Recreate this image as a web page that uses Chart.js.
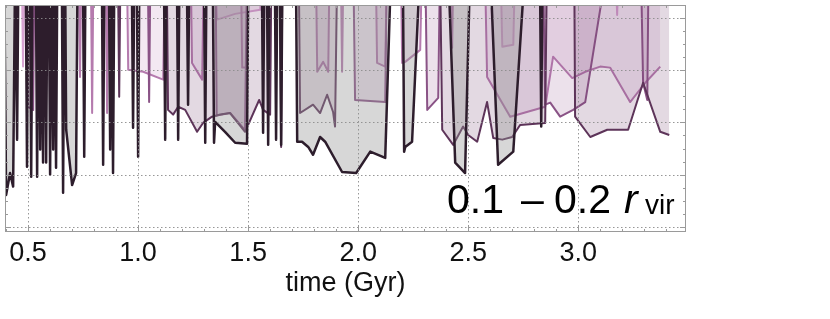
<!DOCTYPE html>
<html>
<head>
<meta charset="utf-8">
<script src="https://cdn.jsdelivr.net/npm/chart.js@4.4.0/dist/chart.umd.min.js"></script>
<style>
  html, body { margin: 0; padding: 0; background: #fff; }
  #wrap { width: 830px; height: 319px; }
</style>
</head>
<body>
<div id="wrap"><canvas id="shell-chart"></canvas></div>
<script>
// values, time in Gyr; 5 means the curve runs off the top of the panel
const darkTime = [0.391,0.400,0.418,0.432,0.441, 0.444,0.450,0.456, 0.489,0.495,0.501, 0.508,0.514,0.520, 0.535,0.541,0.547, 0.550,0.555,0.561, 0.563,0.568,0.574, 0.577,0.582,0.588, 0.594,0.600,0.606, 0.608,0.614,0.620, 0.622,0.627,0.633, 0.653,0.659,0.665, 0.668,0.673,0.700,0.718,0.725, 0.749,0.755,0.761, 0.835,0.841,0.847, 0.867,0.873,0.879, 0.880,0.886,0.892, 0.971,0.977,0.983, 0.994,1.000,1.006,
    1.117,1.123,1.129, 1.176,1.182,1.188, 1.221,1.227,1.233, 1.299,1.305,1.311, 1.339,1.345,1.350,1.395,1.441,1.495,1.501, 1.562,1.568,1.574, 1.585,1.591,1.597, 1.621,1.627,1.633, 1.644,1.650,1.656,
    1.717,1.723,1.745,1.773,1.795,1.827,1.850,1.927,1.991,2.055,2.123,2.150, 2.203,2.209,2.214,2.245,2.282, 2.409,2.441,2.486,2.509, 2.600,2.636,2.705,2.759, 2.826,2.832,2.838];
const darkVal = [5,0.61,1.03,0.77,5, 5,1.67,5, 5,1.15,5, 5,0.96,5, 5,0.96,5, 5,1.48,5, 5,1.23,5, 5,1.23,5, 5,1.00,5, 5,1.48,5, 5,1.13,5, 5,0.65,5, 5,1.86,0.80,1.03,5, 5,1.34,5, 5,1.19,5, 5,1.48,5, 5,1.03,5, 5,1.90,5, 5,1.34,5,
    5,1.67,5, 5,1.67,5, 5,2.34,5, 5,1.61,5, 5,1.61,2.01,1.82,1.61,1.59,5, 5,1.80,5, 5,1.57,5, 5,1.67,5, 5,1.57,5,
    5,1.63,1.63,1.53,1.38,1.72,1.63,1.05,1.03,1.44,1.32,5, 5,1.44,1.53,1.63,5, 5,1.23,1.03,5, 5,1.19,1.44,5, 5,1.92,5];

const plumTime = [0.908,0.914,0.920, 1.130,1.136,1.159,1.182,1.214,1.268,1.295,1.336,1.373,1.418,1.486,1.550,1.568,1.600,1.606, 1.644,1.650,1.656, 1.730,1.736,1.795,1.827,1.859,1.886,1.895,1.905, 2.372,2.382,2.432,2.477,2.500,2.541,2.586,2.614,2.655,2.700,2.736,2.850,2.858, 2.982,2.986,3.055,3.132,3.227,3.295,3.373,3.414];
const plumVal = [5,2.49,5, 5,2.24,2.15,2.30,2.24,1.82,1.99,2.11,2.15,2.18,1.82,2.43,2.24,2.15,5, 5,1.53,5, 5,2.18,2.34,2.18,2.53,2.20,1.92,5, 5,1.86,1.57,1.92,1.76,1.63,2.39,1.70,1.67,1.72,1.95,1.99,5, 5,2.11,1.72,1.86,1.86,2.76,1.82,1.76];

const purpleTime = [0.494,0.500,0.523,0.529, 1.044,1.050,1.056, 1.352,1.357,1.418,1.486,1.495, 1.978,1.986,2.123,2.131, 2.305,2.314,2.364,2.372, 2.840,2.850,2.873,2.918,2.977,3.032,3.132, 3.285,3.295,3.314,3.320];
const purpleVal = [5,2.30,2.24,5, 5,2.39,5, 5,2.13,2.18,1.85,5, 5,2.43,2.39,5, 5,2.24,2.47,5, 5,2.34,2.38,2.11,2.24,2.39,5, 5,2.76,2.43,5];

const mauveTime = [0.730,0.736,0.742, 0.785,0.791,0.797, 0.853,0.859,0.865, 0.949,0.955,1.023,1.114,1.122, 1.239,1.245,1.291,1.299, 1.467,1.473,1.495,1.501, 1.808,1.814,1.841,1.864,1.870, 1.921,1.927,1.933, 2.080,2.086,2.123,2.131, 2.194,2.200,2.214,2.282,2.290, 2.421,2.427,2.433, 2.576,2.586,2.691,2.850,2.886,2.973,3.032,3.100,3.145,3.236,3.305,3.373];
const mauveVal = [5,2.87,5, 5,2.18,5, 5,2.18,5, 5,3.01,2.97,2.82,5, 5,3.14,2.82,5, 5,3.05,3.05,5, 5,2.97,3.16,2.97,5, 5,2.97,5, 5,3.14,3.07,5, 5,3.14,3.16,3.39,5, 5,3.43,5, 5,2.87,2.11,2.30,3.26,2.85,2.97,3.07,3.05,2.39,2.76,3.07];

const pinkTime = [0.471,0.477,0.483, 1.350,1.359,1.441,1.555,1.565, 2.647,2.655,2.705,2.713, 3.170,3.177,3.184];
const pinkVal = [5,3.07,5, 5,3.97,4.08,4.16,5, 5,3.45,3.49,5, 5,4.06,5];

const xMajor = [0.5, 1.0, 1.5, 2.0, 2.5, 3.0];
const yMajor = [0, 1, 2, 3, 4];

const labelFont = { family: '"Liberation Sans", Arial, sans-serif', size: 27, lineHeight: 1 };

function pairs(times, vals) {
    return times.map((t, i) => ({ x: t, y: vals[i] }));
}

function series(times, vals, line, fill, width) {
    return {
        data: pairs(times, vals),
        borderColor: line,
        backgroundColor: fill,
        borderWidth: width,
        borderJoinStyle: 'round',
        fill: 'end',
        pointRadius: 0,
        tension: 0,
        clip: 0
    };
}

const frame = {
    id: 'frame',
    afterDatasetsDraw(chart) {
        const { ctx, chartArea: a, scales: { x, y } } = chart;
        ctx.save();
        // dotted grid
        ctx.strokeStyle = 'rgba(140,140,140,0.9)';
        ctx.lineWidth = 1;
        ctx.setLineDash([1.5, 2.5]);
        xMajor.forEach(v => {
            const px = Math.round(x.getPixelForValue(v)) + 0.5;
            ctx.beginPath(); ctx.moveTo(px, a.top); ctx.lineTo(px, a.bottom); ctx.stroke();
        });
        yMajor.forEach(v => {
            const py = Math.round(y.getPixelForValue(v)) + 0.5;
            ctx.beginPath(); ctx.moveTo(a.left, py); ctx.lineTo(a.right, py); ctx.stroke();
        });
        ctx.setLineDash([]);
        // ticks pointing in
        ctx.strokeStyle = '#9a9a9a';
        for (let k = 4; k <= 34; k++) {
            const len = k % 5 === 0 ? 6 : 3;
            const px = Math.round(x.getPixelForValue(k / 10)) + 0.5;
            ctx.beginPath();
            ctx.moveTo(px, a.bottom); ctx.lineTo(px, a.bottom - len);
            ctx.moveTo(px, a.top); ctx.lineTo(px, a.top + len);
            ctx.stroke();
        }
        for (let k = 0; k <= 16; k++) {
            const len = k % 4 === 0 ? 6 : 3;
            const py = Math.round(y.getPixelForValue(k / 4)) + 0.5;
            ctx.beginPath();
            ctx.moveTo(a.left, py); ctx.lineTo(a.left + len, py);
            ctx.moveTo(a.right, py); ctx.lineTo(a.right - len, py);
            ctx.stroke();
        }
        ctx.strokeRect(a.left + 0.5, a.top + 0.5, a.right - a.left - 1, a.bottom - a.top - 1);
        ctx.restore();
    },
    afterDraw(chart) {
        const { ctx } = chart;
        ctx.save();
        ctx.fillStyle = '#000';
        ctx.textBaseline = 'alphabetic';
        ctx.font = '41px "Liberation Sans", Arial, sans-serif';
        ctx.fillText('0.1', 447, 213);
        ctx.fillText('\u2013', 521, 213);
        ctx.fillText('0.2', 554, 213);
        ctx.font = 'italic 41px "Liberation Sans", Arial, sans-serif';
        ctx.fillText('r', 624, 213);
        ctx.font = '28px "Liberation Sans", Arial, sans-serif';
        ctx.fillText('vir', 645, 214);
        ctx.restore();
    }
};

new Chart(document.querySelector('#shell-chart').getContext('2d'), {
    type: 'line',
    data: {
        datasets: [
            series(darkTime, darkVal, '#2d1d2c', 'rgba(150,150,150,0.38)', 2.5),
            series(plumTime, plumVal, '#5d3459', 'rgba(115,65,110,0.2)', 2),
            series(purpleTime, purpleVal, '#8a5386', 'rgba(150,90,145,0.18)', 2),
            series(mauveTime, mauveVal, '#b57bae', 'rgba(185,120,178,0.17)', 2),
            series(pinkTime, pinkVal, '#d8a4d2', 'rgba(215,160,210,0.2)', 2)
        ]
    },
    options: {
        responsive: true,
        maintainAspectRatio: false,
        animation: false,
        devicePixelRatio: 1,
        layout: { padding: { left: 5, top: 5, right: 144, bottom: 22 } },
        plugins: { legend: { display: false }, tooltip: { enabled: false } },
        scales: {
            x: {
                type: 'linear',
                min: 0.395,
                max: 3.49,
                grid: { display: false, drawTicks: false },
                border: { display: false },
                afterBuildTicks: axis => { axis.ticks = xMajor.map(v => ({ value: v })); },
                ticks: {
                    autoSkip: false,
                    maxRotation: 0,
                    padding: 8,
                    color: '#111',
                    font: labelFont,
                    callback: v => v.toFixed(1)
                },
                title: {
                    display: true,
                    text: 'time (Gyr)',
                    color: '#111',
                    padding: { top: -5, bottom: 0 },
                    font: labelFont
                }
            },
            y: {
                display: false,
                min: -0.1,
                max: 4.25
            }
        }
    },
    plugins: [frame]
});
</script>
</body>
</html>
